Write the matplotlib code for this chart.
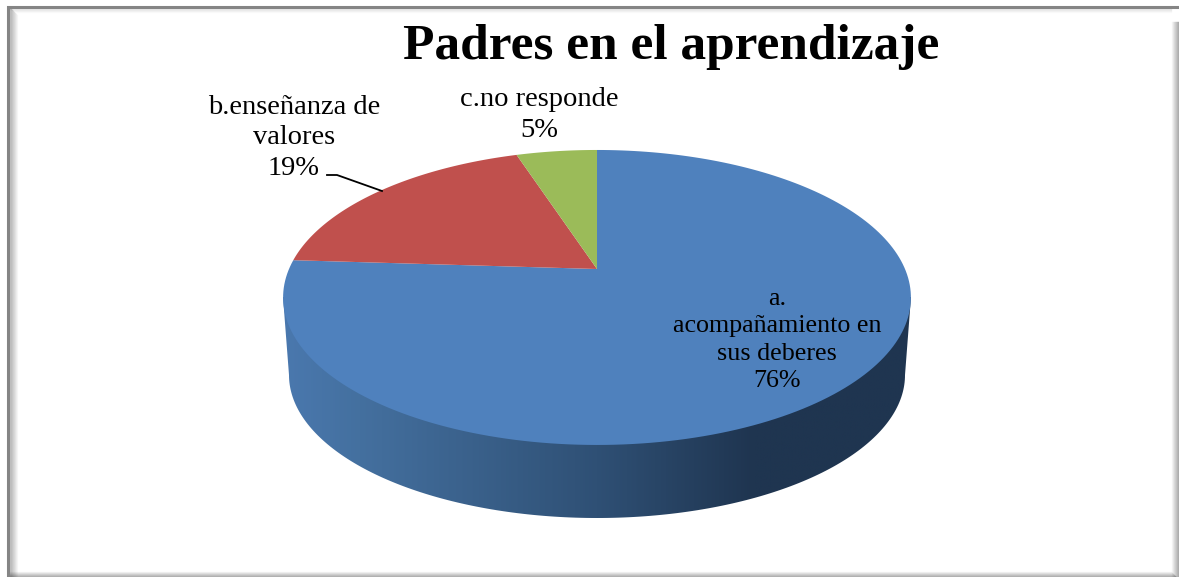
import numpy as np
import matplotlib
matplotlib.use("Agg")
import matplotlib.pyplot as plt
from matplotlib.colors import LinearSegmentedColormap
from matplotlib.patches import Polygon

title = "Padres en el aprendizaje"
categories = ["a.\nacompañamiento en\nsus deberes", "b.enseñanza de\nvalores", "c.no responde"]
percents = [76, 19, 5]
colors = ["#4F81BD", "#C0504D", "#9BBB59"]

plt.rcParams["font.family"] = ["Liberation Serif", "DejaVu Serif"]

W, H = 1179, 577
fig = plt.figure(figsize=(W / 100, H / 100), dpi=100)
ax = fig.add_axes([0, 0, 1, 1])
ax.set_xlim(0, W)
ax.set_ylim(H, 0)
ax.axis("off")

# pie geometry, in pixels (3d look = circle with perspective)
cx, cy = 597, 269
rx, ry, persp = 308, 142, 0.193
side_cy, side_ry = 375, 143


def project(angle_deg):
    # angle measured clockwise from 12 o'clock
    t = np.radians(angle_deg)
    u, v = np.sin(t), np.cos(t)
    s = 1 / (1 + persp * v)
    return cx + rx * u * s, cy - ry * v * s


# outer frame: dark line top and left, soft shadows
for i in range(8):
    a = 0.22 * (1 - i / 8)
    ax.plot([9.5 + i, 9.5 + i], [8 + i, 577], color="black", alpha=a, lw=1, zorder=1)
    ax.plot([9.5 + i, 1171], [8.5 + i * 0.5, 8.5 + i * 0.5], color="black", alpha=a * 0.2, lw=1, zorder=1)
for i in range(8):
    a = 0.28 * (i + 1) / 8
    ax.plot([1171.5 + i, 1171.5 + i], [22, 577], color="black", alpha=a, lw=1, zorder=1)
for i in range(6):
    a = 0.28 * (i + 1) / 6
    ax.plot([9, 1171 + i], [571.5 + i, 571.5 + i], color="black", alpha=a, lw=1, zorder=1)
ax.plot([7.5, 7.5, 1179], [577, 6.5, 6.5], color="#858585", lw=2.2, zorder=2, solid_joinstyle="miter")

# side of the pie: gradient clipped to the lower outline
t = np.linspace(0, np.pi, 181)
bot_x = cx + rx * np.cos(t)
bot_y = side_cy + side_ry * np.sin(t)
shade = LinearSegmentedColormap.from_list(
    "side", [(0, "#4A78AE"), (0.12, "#44709F"), (0.5, "#2F5075"), (0.75, "#1F3550"), (1, "#1F3550")]
)
grad = np.linspace(0, 1, 400).reshape(1, -1)
img = ax.imshow(grad, cmap=shade, extent=[283, 911, 530, 280], aspect="auto", zorder=3)
ax.set_xlim(0, W)
ax.set_ylim(H, 0)
outline = np.column_stack([
    np.r_[911, bot_x, 283],
    np.r_[297, bot_y, 297],
])
clip = Polygon(outline, closed=True, transform=ax.transData, fc="none", ec="none")
ax.add_patch(clip)
img.set_clip_path(clip)

# top face, clockwise from 12 o'clock
start = 0
for pct, col in zip(percents, colors):
    ang = np.linspace(start, start + pct * 3.6, 200)
    x, y = project(ang)
    ax.fill(np.r_[cx, x], np.r_[cy, y], color=col, lw=0, zorder=4)
    start += pct * 3.6

# labels
fs = 20.5
ls = 1.31
ax.text(671, 47, title, ha="center", va="center", fontsize=37, fontweight="bold", color="black", zorder=6)
ax.text(777, 340, f"{categories[0]}\n{percents[0]}%", ha="center", va="center", fontsize=18.7,
        linespacing=1.32, color="black", zorder=6)
ax.text(294, 138, f"{categories[1]}\n{percents[1]}%", ha="center", va="center", fontsize=fs,
        linespacing=ls, color="black", zorder=6)
ax.text(539, 115, f"{categories[2]}\n{percents[2]}%", ha="center", va="center", fontsize=fs,
        linespacing=ls, color="black", zorder=6)
ax.plot([327, 337, 382], [175, 175, 191], color="black", lw=1.3, zorder=6)

fig.savefig("out.png", dpi=100)
